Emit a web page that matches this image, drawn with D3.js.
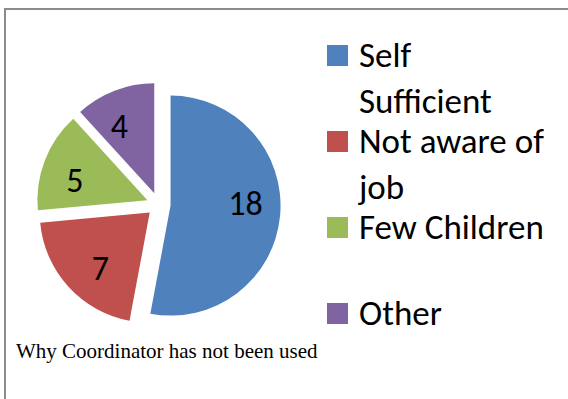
<!DOCTYPE html>
<html>
<head>
<meta charset="utf-8">
<script src="https://cdn.jsdelivr.net/npm/d3@7"></script>
<style>
    body { margin: 0; background: #fff; }
    svg { display: block; }
</style>
</head>
<body>
<svg id="chart"></svg>
<script>
const categories = ["Self Sufficient", "Not aware of job", "Few Children", "Other"];
const legendLabels = [["Self", "Sufficient"], ["Not aware of", "job"], ["Few Children"], ["Other"]];
const values = [18, 7, 5, 4];
const colors = ["#4F81BD", "#C0504D", "#9BBB59", "#8064A2"];
const caption = "Why Coordinator has not been used";

const width = 568;
const height = 399;

const cx = 158.6;
const cy = 204.5;
const radius = 110;
const explode = 12;
const labelRadius = 75;
const labelTurn = -6.5 * Math.PI / 180; // labels sit a bit anticlockwise of the slice middle

const svg = d3.select("#chart").attr("width", width).attr("height", height);

// frame (only top and left edges are visible in the crop)
svg.append("path")
    .attr("d", `M5,${height + 5} V9 H${width + 5}`)
    .attr("fill", "none")
    .attr("stroke", "#8c8c8c")
    .attr("stroke-width", 2);

const pie = d3.pie().sort(null).value(d => d);
const arcs = pie(values);
const arc = d3.arc().innerRadius(0).outerRadius(radius);

const mid = d => (d.startAngle + d.endAngle) / 2;

const slices = svg.append("g")
    .attr("transform", `translate(${cx},${cy})`)
    .selectAll(".slice")
    .data(arcs)
    .enter()
    .append("g")
    .attr("class", "slice")
    .attr("transform", d => `translate(${explode * Math.sin(mid(d))},${-explode * Math.cos(mid(d))})`);

slices.append("path")
    .attr("d", arc)
    .attr("fill", (d, i) => colors[i]);

slices.append("text")
    .attr("x", d => labelRadius * Math.sin(mid(d) + labelTurn))
    .attr("y", d => -labelRadius * Math.cos(mid(d) + labelTurn))
    .attr("text-anchor", "middle")
    .attr("dy", "0.32em")
    .style("font-family", "Carlito, Lato, sans-serif")
    .style("font-size", "34px")
    .attr("fill", "#000")
    .text(d => d.value);

// legend
const legend = svg.selectAll(".legend")
    .data(categories)
    .enter()
    .append("g")
    .attr("class", "legend")
    .attr("transform", (d, i) => `translate(327,${45 + i * 86})`);

legend.append("rect")
    .attr("width", 21)
    .attr("height", 21)
    .attr("fill", (d, i) => colors[i]);

legend.append("text")
    .attr("x", 32)
    .attr("y", 22)
    .style("font-family", "Carlito, Lato, sans-serif")
    .style("font-size", "35px")
    .attr("fill", "#000")
    .selectAll("tspan")
    .data((d, i) => legendLabels[i])
    .enter()
    .append("tspan")
    .attr("x", 32)
    .attr("dy", (d, j) => j === 0 ? 0 : 46)
    .text(d => d);

svg.append("text")
    .attr("x", 16)
    .attr("y", 358)
    .style("font-family", "'Liberation Serif', 'Times New Roman', serif")
    .style("font-size", "21px")
    .attr("fill", "#000")
    .text(caption);
</script>
</body>
</html>
